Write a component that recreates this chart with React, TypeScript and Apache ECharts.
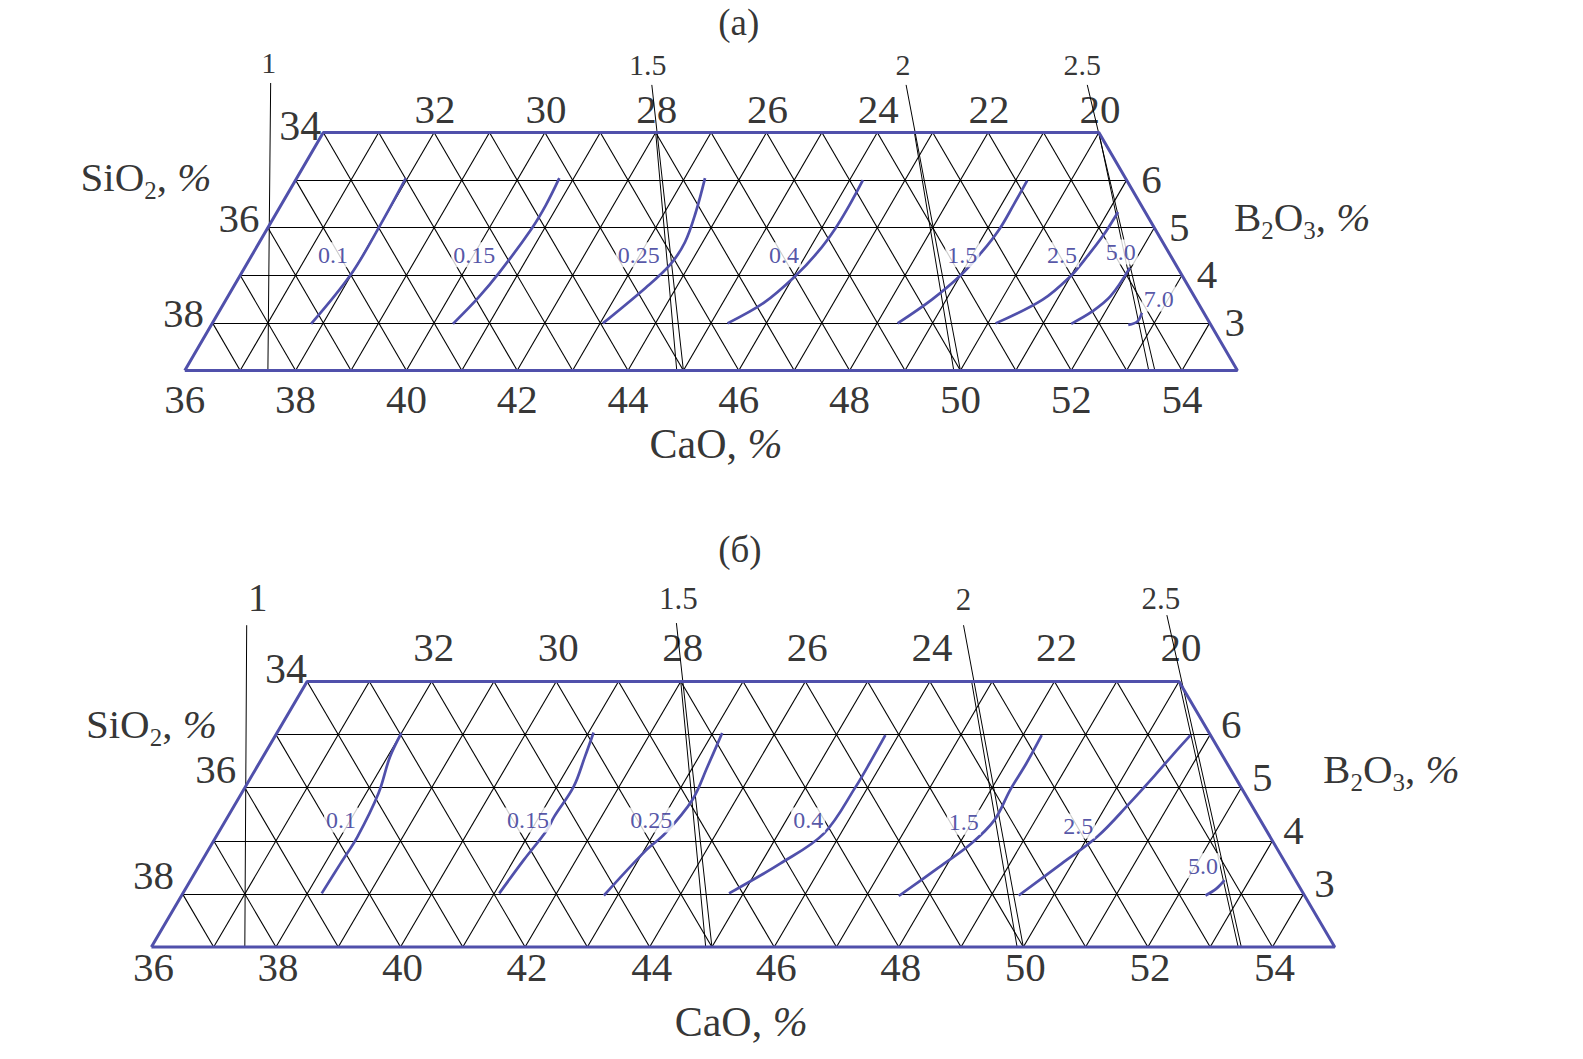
import { useEffect, useRef } from "react";
import * as echarts from "echarts";

type Comp = [number, number]; // [CaO %, B2O3 %]

/* ------------------------------------------------------------------ */
/*  Values                                       */
/* ------------------------------------------------------------------ */
// diagram frame (CaO 36..55 along the base, B2O3 2..7 vertically, SiO2 = 77 - CaO - B2O3)
const CAO_MIN = 36;
const CAO_MAX = 55;
const B_MIN = 2;
const B_MAX = 7;
const SUM = 77;

const CAO_TICKS = [36, 38, 40, 42, 44, 46, 48, 50, 52, 54];
const SIO2_TOP_TICKS = [32, 30, 28, 26, 24, 22, 20];
const SIO2_CORNER_TICK = 34;
const SIO2_LEFT_TICKS = [36, 38];
const B2O3_TICKS = [6, 5, 4, 3];
const RATIO_LABELS = ["1", "1.5", "2", "2.5"];

/* ---- panel (а) ---- */
const A_ISO_NAMES = ["0.1", "0.15", "0.25", "0.4", "1.5", "2.5", "5.0", "7.0"];
const A_ISO_01: Comp[] = [[37.97, 6.04], [38.0, 5.09], [37.99, 4.02], [37.79, 2.98]];
const A_ISO_015: Comp[] = [[40.74, 6.04], [40.78, 5.48], [40.77, 4.98], [40.65, 4.06], [40.53, 3.52], [40.35, 2.98]];
const A_ISO_025: Comp[] = [[43.37, 6.04], [43.56, 5.33], [43.68, 4.7], [43.65, 4.23], [43.45, 3.74], [43.05, 2.99]];
const A_ISO_04: Comp[] = [[46.24, 6.0], [46.26, 5.48], [46.25, 4.98], [46.18, 4.48], [46.03, 3.99], [45.74, 3.42], [45.3, 2.99]];
const A_ISO_15: Comp[] = [[49.21, 5.99], [49.22, 5.48], [49.22, 4.98], [49.14, 4.48], [49.0, 3.99], [48.74, 3.49], [48.37, 2.99]];
const A_ISO_25: Comp[] = [[51.18, 5.33], [51.16, 4.84], [51.08, 4.34], [51.0, 3.99], [50.74, 3.49], [50.14, 2.99]];
const A_ISO_50: Comp[] = [[51.98, 4.16], [51.93, 3.56], [51.76, 3.24], [51.51, 2.98]];
const A_ISO_70: Comp[] = [[52.67, 3.21], [52.68, 3.03], [52.55, 2.96]];
const A_ISO_LABEL_AT: Comp[] = [
  [37.46, 4.43], [40.01, 4.43], [42.98, 4.43], [45.6, 4.43],
  [48.82, 4.43], [50.62, 4.43], [51.65, 4.49], [52.83, 3.5],
];
// CaO/SiO2 lines: [upper end, lower end]
const A_RATIO_MAIN: Comp[][] = [
  [[34.53, 8.04], [37.5, 2]],
  [[41.43, 8.0], [45.0, 2]],
  [[46.02, 8.0], [50.0, 2]],
  [[49.29, 8.0], [53.51, 2]],
];
const A_RATIO_SECOND: Comp[][] = [
  [[42.0, 7], [44.88, 2]],
  [[46.67, 7], [49.88, 2]],
  [[50.0, 7], [53.4, 2]],
];

/* ---- panel (б) ---- */
const B_ISO_NAMES = ["0.1", "0.15", "0.25", "0.4", "1.5", "2.5", "5.0"];
const B_ISO_01: Comp[] = [[38.0, 6.03], [38.04, 5.58], [38.2, 4.89], [38.27, 4.08], [38.25, 3.57], [38.23, 3.01]];
const B_ISO_015: Comp[] = [[41.08, 6.04], [41.17, 5.58], [41.27, 5.02], [41.24, 4.45], [41.25, 4.2], [41.16, 3.64], [41.08, 3.01]];
const B_ISO_025: Comp[] = [[43.15, 6.03], [43.23, 5.4], [43.3, 4.77], [43.18, 4.14], [43.03, 3.82], [42.78, 2.97]];
const B_ISO_04: Comp[] = [[45.79, 5.99], [45.8, 5.52], [45.8, 5.02], [45.73, 4.14], [45.31, 3.57], [44.77, 3.01]];
const B_ISO_15: Comp[] = [[48.3, 5.99], [48.32, 5.46], [48.31, 4.96], [48.34, 4.39], [48.19, 3.95], [47.9, 3.51], [47.52, 2.96]];
const B_ISO_25: Comp[] = [[50.69, 5.99], [50.59, 5.62], [50.49, 5.21], [50.35, 4.7], [50.15, 4.08], [49.83, 3.57], [49.44, 2.97]];
const B_ISO_50: Comp[] = [[52.6, 3.26], [52.55, 3.1], [52.44, 2.97]];
const B_ISO_LABEL_AT: Comp[] = [
  [37.85, 4.39], [40.85, 4.39], [42.83, 4.39], [45.35, 4.39],
  [47.87, 4.35], [49.74, 4.28], [52.12, 3.53],
];
const B_RATIO_MAIN: Comp[][] = [
  [[34.5, 8.06], [37.5, 2]],
  [[41.38, 8.1], [45.0, 2]],
  [[46.01, 8.06], [50.0, 2]],
  [[49.18, 8.25], [53.5, 2]],
];
const B_RATIO_SECOND: Comp[][] = [
  [[42.0, 7], [44.9, 2]],
  [[46.67, 7], [49.9, 2]],
  [[50.0, 7], [53.45, 2]],
];

/* ------------------------------------------------------------------ */
/*  Layout / style                                                    */
/* ------------------------------------------------------------------ */
const FONT = "'Liberation Serif', 'Times New Roman', 'DejaVu Serif', serif";
const BLUE = "#5050ab";
const LABEL_BLUE = "#2a2a90";
const INK = "#000000";

const X_MIN = -2.5, X_MAX = 21.5, Y_MIN = -2, Y_MAX = 7.7;

type Panel = {
  x0: number; s: number; ybot: number; h: number;
  iso: Comp[][]; isoNames: string[]; isoLabelAt: Comp[];
  ratioMain: Comp[][]; ratioSecond: Comp[][];
  numSize: number; ratioSize: number[]; ratioOffset: number[][];
  bottomOff: number[]; topOff: number[]; cornerOff: number[]; leftOff: number[]; rightOff: number[];
  title: string; titleAt: number[]; siAt: number[]; bAt: number[]; caAt: number[];
};

const PANELS: Panel[] = [
  {
    x0: 184.8, s: 55.4, ybot: 370.5, h: 47.6,
    iso: [A_ISO_01, A_ISO_015, A_ISO_025, A_ISO_04, A_ISO_15, A_ISO_25, A_ISO_50, A_ISO_70],
    isoNames: A_ISO_NAMES, isoLabelAt: A_ISO_LABEL_AT,
    ratioMain: A_RATIO_MAIN, ratioSecond: A_RATIO_SECOND,
    numSize: 41, ratioSize: [30, 30, 30, 30],
    ratioOffset: [[-2, -20], [-4, -20], [-3, -20], [-5, -20]],
    bottomOff: [0, 28], topOff: [1, -24], cornerOff: [-23, -7], leftOff: [-29, -10], rightOff: [25, -1],
    title: "(а)", titleAt: [10.0, 7.32], siAt: [-0.7, 4.07], bAt: [20.17, 3.22], caAt: [9.59, -1.54],
  },
  {
    x0: 151.4, s: 62.28, ybot: 947, h: 53.1,
    iso: [B_ISO_01, B_ISO_015, B_ISO_025, B_ISO_04, B_ISO_15, B_ISO_25, B_ISO_50],
    isoNames: B_ISO_NAMES, isoLabelAt: B_ISO_LABEL_AT,
    ratioMain: B_RATIO_MAIN, ratioSecond: B_RATIO_SECOND,
    numSize: 41, ratioSize: [39, 31, 31, 31],
    ratioOffset: [[11, -28], [2, -25], [0, -26], [-6, -17]],
    bottomOff: [2, 20], topOff: [2, -35], cornerOff: [-21, -13], leftOff: [-29, -19], rightOff: [21, -11],
    title: "(б)", titleAt: [9.45, 7.48], siAt: [0.0, 4.2], bAt: [19.91, 3.35], caAt: [9.47, -1.41],
  },
];

/* composition -> diagram units (x in triangle sides, y in rows) */
const toXY = ([c, b]: Comp): number[] => [c - CAO_MIN + (b - B_MIN) / 2, b - B_MIN];

function gridLines(): Comp[][] {
  const segs: Comp[][] = [];
  for (let b = B_MIN + 1; b < B_MAX; b++) segs.push([[CAO_MIN, b], [SUM - 20 - b, b]]);
  const siRight = SUM - CAO_MAX - B_MIN; // SiO2 along the right edge (20)
  for (let c = CAO_MIN + 1; c < CAO_MAX; c++) {
    const topB = Math.min(B_MAX, SUM - siRight - c);
    segs.push([[c, B_MIN], [c, topB]]);
  }
  const siMax = SUM - CAO_MIN - B_MIN; // 39
  for (let si = siRight + 1; si < siMax; si++) {
    const start: Comp = si <= SUM - CAO_MIN - B_MAX ? [SUM - si - B_MAX, B_MAX] : [CAO_MIN, SUM - si - CAO_MIN];
    segs.push([start, [SUM - si - B_MIN, B_MIN]]);
  }
  return segs;
}

function buildOption() {
  const grid: any[] = [], xAxis: any[] = [], yAxis: any[] = [], series: any[] = [];
  const frame: Comp[] = [[CAO_MIN, B_MIN], [CAO_MAX, B_MIN], [SUM - 20 - B_MAX, B_MAX], [CAO_MIN, B_MAX], [CAO_MIN, B_MIN]];

  PANELS.forEach((p, i) => {
    grid.push({
      left: p.x0 + X_MIN * p.s, top: p.ybot - Y_MAX * p.h,
      width: (X_MAX - X_MIN) * p.s, height: (Y_MAX - Y_MIN) * p.h,
      containLabel: false, outerBoundsMode: "none", show: false,
    });
    xAxis.push({ type: "value", gridIndex: i, min: X_MIN, max: X_MAX, show: false });
    yAxis.push({ type: "value", gridIndex: i, min: Y_MIN, max: Y_MAX, show: false });
    const ax = { xAxisIndex: i, yAxisIndex: i };

    series.push({
      type: "lines", ...ax, coordinateSystem: "cartesian2d", silent: true, z: 1,
      lineStyle: { color: "#000000", width: 1.1, opacity: 1 },
      data: gridLines().map((seg) => ({ coords: seg.map(toXY) })),
    });
    series.push({
      type: "lines", ...ax, coordinateSystem: "cartesian2d", silent: true, z: 2,
      lineStyle: { color: "#000000", width: 1, opacity: 1 },
      data: [...p.ratioMain, ...p.ratioSecond].map((seg) => ({ coords: seg.map(toXY) })),
    });
    series.push({
      type: "line", ...ax, silent: true, z: 3, symbol: "none", clip: false,
      lineStyle: { color: BLUE, width: 3 },
      data: frame.map(toXY),
    });
    p.iso.forEach((curve) => {
      series.push({
        type: "line", ...ax, silent: true, z: 4, symbol: "none", smooth: 0.35, clip: false,
        lineStyle: { color: BLUE, width: 2.7 },
        data: curve.map(toXY),
      });
    });

    const texts: any[] = [];
    const num = (pos: number[], text: string, offset: number[], size = p.numSize) =>
      texts.push({
        value: pos,
        label: { formatter: text, offset, fontSize: size, fontFamily: FONT, color: INK },
      });
    CAO_TICKS.forEach((c) => num(toXY([c, B_MIN]), String(c), p.bottomOff));
    SIO2_TOP_TICKS.forEach((si) => num(toXY([SUM - si - B_MAX, B_MAX]), String(si), p.topOff));
    num(toXY([SUM - SIO2_CORNER_TICK - B_MAX, B_MAX]), String(SIO2_CORNER_TICK), p.cornerOff, p.numSize + 1);
    SIO2_LEFT_TICKS.forEach((si) => num(toXY([CAO_MIN, SUM - si - CAO_MIN]), String(si), p.leftOff));
    B2O3_TICKS.forEach((b) => num(toXY([SUM - 20 - b, b]), String(b), p.rightOff));
    RATIO_LABELS.forEach((t, k) => num(toXY(p.ratioMain[k][0]), t, p.ratioOffset[k], p.ratioSize[k]));

    p.isoNames.forEach((t, k) =>
      texts.push({
        value: toXY(p.isoLabelAt[k]),
        label: {
          formatter: t, fontSize: 24, fontFamily: FONT, color: LABEL_BLUE,
          backgroundColor: "#ffffff", padding: [1, 2, 0, 2],
        },
      }),
    );

    const rich = {
      m: { fontSize: 41, fontFamily: FONT, color: INK, lineHeight: 52 },
      s: { fontSize: 25, fontFamily: FONT, color: INK, verticalAlign: "bottom" },
      i: { fontSize: 41, fontFamily: FONT, color: INK, fontStyle: "italic", lineHeight: 52 },
    };
    texts.push({ value: p.siAt, label: { formatter: "{m|SiO}{s|2}{m|, }{i|%}", rich } });
    texts.push({ value: p.bAt, label: { formatter: "{m|B}{s|2}{m|O}{s|3}{m|, }{i|%}", rich } });
    texts.push({ value: p.caAt, label: { formatter: "{m|CaO, }{i|%}", rich: { ...rich, m: { ...rich.m, fontSize: 42 }, i: { ...rich.i, fontSize: 42 } } } });
    texts.push({ value: p.titleAt, label: { formatter: p.title, fontSize: 37, fontFamily: FONT, color: INK } });

    series.push({
      type: "scatter", ...ax, silent: true, z: 6, clip: false,
      symbol: "circle", symbolSize: 1, itemStyle: { color: "rgba(0,0,0,0)" },
      label: { show: true, position: "inside" },
      data: texts,
    });
  });

  return { animation: false, backgroundColor: "#ffffff", grid, xAxis, yAxis, series };
}

export default function App() {
  const ref = useRef<HTMLDivElement>(null);
  useEffect(() => {
    if (!ref.current) return;
    const chart = echarts.init(ref.current, undefined, { renderer: "svg" });
    chart.setOption(buildOption() as any);
    return () => chart.dispose();
  }, []);
  return (
    <div
      ref={ref}
      style={{ position: "absolute", left: 0, top: 0, width: 1583, height: 1059, background: "#fff" }}
    />
  );
}
